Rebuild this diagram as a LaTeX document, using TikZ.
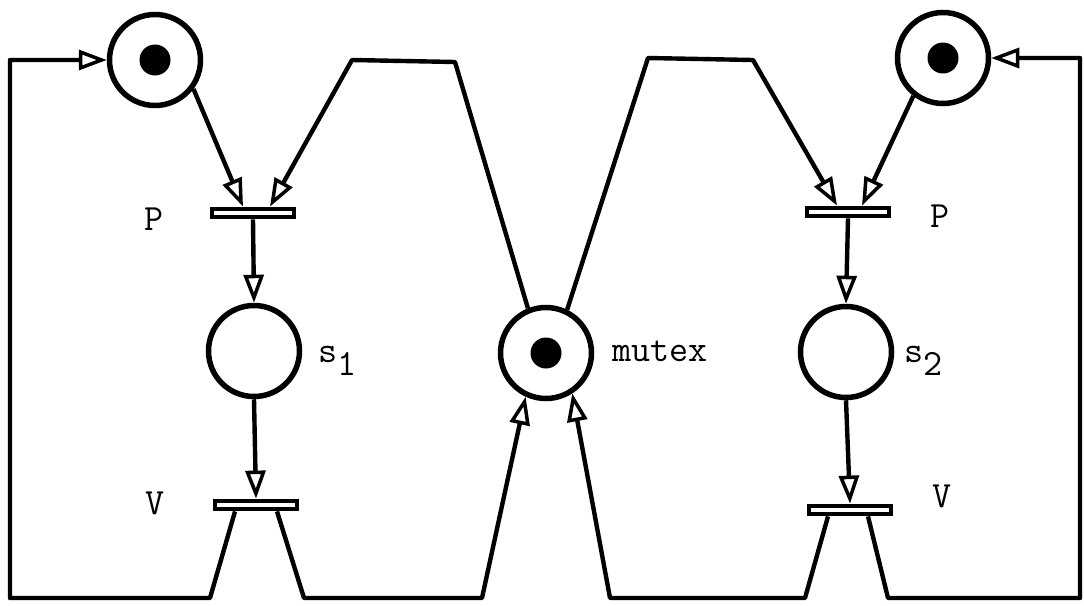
\documentclass[tikz,border=0pt]{standalone}
\usetikzlibrary{arrows.meta}
\begin{document}
\begin{tikzpicture}[x=1pt,y=-1pt,
  place/.style={circle,draw,line width=5.5pt,minimum size=91pt,inner sep=0pt},
  token/.style={circle,fill,minimum size=31pt,inner sep=0pt},
  trans/.style={rectangle,draw,fill=white,line width=4.8pt,minimum width=82pt,minimum height=8pt,inner sep=0pt},
  arc/.style={line width=4.4pt,line join=round,-{Triangle[open,length=28pt,width=20pt,line width=3.5pt]}},
  lbl/.style={font=\fontsize{37}{42}\selectfont\ttfamily,inner sep=0pt}]
\useasboundingbox (0,0) rectangle (1084,605);
% places
\node[place] (pl1) at (155,60) {};
\node[token] (tk1) at (pl1) {};
\node[place] (pl2) at (943,58) {};
\node[token] (tk2) at (pl2) {};
\node[place] (mutex) at (546,353) {};
\node[token] (tkm) at (mutex) {};
\node[place] (s1) at (254,351) {};
\node[place] (s2) at (846,352) {};
% transitions
\node[trans] (P1) at (253,213) {};
\node[trans] (V1) at (256,505) {};
\node[trans] (P2) at (848,212) {};
\node[trans] (V2) at (850,510) {};
% labels
\node[lbl,anchor=base] (lP1) at (154,230) {P};
\node[lbl,anchor=base] (lV1) at (155,514) {V};
\node[lbl,anchor=base] (lP2) at (940,227) {P};
\node[lbl,anchor=base] (lV2) at (942,507) {V};
\node[lbl,anchor=base west] (lm) at (612,361) {mutex};
\node[lbl,anchor=base west] (ls1) at (318,362) {s\raisebox{-13pt}{1}};
\node[lbl,anchor=base west] (ls2) at (904,362) {s\raisebox{-13pt}{2}};
% corner coordinates
\coordinate (a1) at (210,598);
\coordinate (a2) at (10,598);
\coordinate (a3) at (10,60);
\coordinate (b1) at (304,598);
\coordinate (b2) at (482,598);
\coordinate (c1) at (805,598);
\coordinate (c2) at (610,598);
\coordinate (d1) at (888,598);
\coordinate (d2) at (1080,598);
\coordinate (d3) at (1080,58);
\coordinate (e1) at (455,62);
\coordinate (e2) at (352,60);
\coordinate (f1) at (648,58);
\coordinate (f2) at (753,60);
% arcs
\draw[arc] (pl1.323) -- ([xshift=-10pt]P1.north);
\draw[arc] (mutex.112) -- (e1) -- (e2) -- ([xshift=17pt]P1.north);
\draw[arc] (pl2.232) -- ([xshift=14pt]P2.north);
\draw[arc] (mutex.64) -- (f1) -- (f2) -- ([xshift=-11pt]P2.north);
\draw[arc] (P1.south) -- (s1.north);
\draw[arc] (s1.south) -- (V1.north);
\draw[arc] (P2.south) -- (s2.north);
\draw[arc] (s2.south) -- (V2.north);
\draw[arc] ([xshift=-21pt]V1.south) -- (a1) -- (a2) -- (a3) -- (pl1.west);
\draw[arc] ([xshift=21pt]V1.south) -- (b1) -- (b2) -- (mutex.245);
\draw[arc] ([xshift=-22pt]V2.south) -- (c1) -- (c2) -- (mutex.303);
\draw[arc] ([xshift=18pt]V2.south) -- (d1) -- (d2) -- (d3) -- (pl2.east);
\end{tikzpicture}
\end{document}
